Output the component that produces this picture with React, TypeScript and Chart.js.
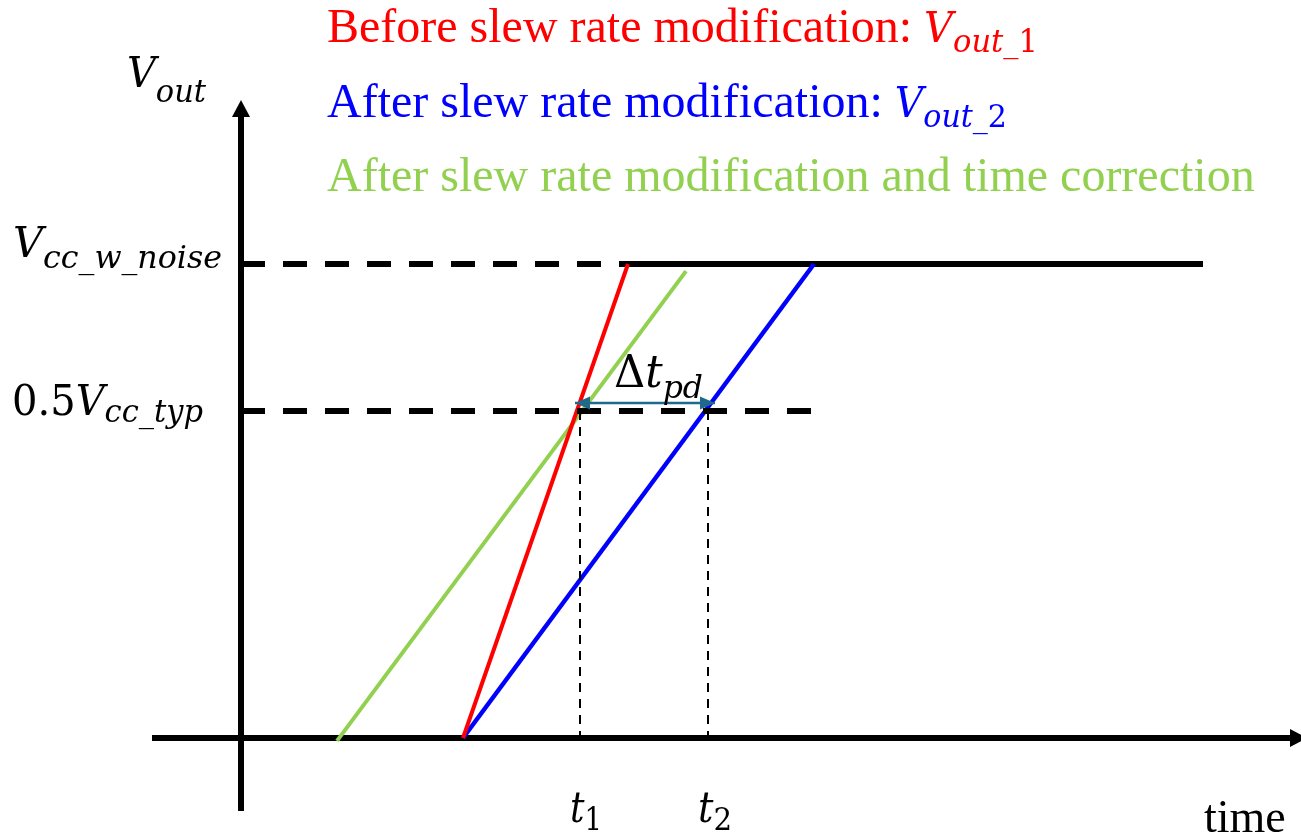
import React, { useEffect, useRef } from 'react';
import { Chart, registerables } from 'chart.js';

Chart.register(...registerables);

// ---- scale ranges (time units / voltage units, Vcc_w_noise = 1) ----
const T_MIN = -2.41;
const T_MAX = 10.6;
const V_MIN = -0.2046;
const V_MAX = 1.557;

// ---- levels ----
const V_NOISE = 1;
const V_HALF = 0.69;

// ---- series ----
const redT = [2.22, 3.87];
const redV = [0, 1];
const blueT = [2.22, 5.73];
const blueV = [0, 1];
const greenT = [0.96, 4.45];
const greenV = [-0.006, 0.985];
const railT = [3.78, 9.62];
const topDashT = [0, 3.78];
const halfDashT = [0, 5.7];
const crossT = [3.39, 4.67]; // t1, t2
const deltaT = [3.34, 4.74];
const deltaV = 0.707;
const xAxisT = [-0.89, 10.49];
const yAxisV = [-0.154, 1.31];

// ---- texts ----
const titleTexts = [
  'Before slew rate modification: ',
  'After slew rate modification: ',
  'After slew rate modification and time correction',
];
const titleColors = ['#FF0000', '#0000FF', '#92D050'];
const titleMathSub = ['1', '2', ''];
const timeLabel = 'time';

type Part = { s: string; sub?: boolean; up?: boolean };

const zip = (xs: number[], ys: number[]) => xs.map((x, i) => ({ x, y: ys[i] }));
const flat = (xs: number[], y: number) => xs.map((x) => ({ x, y }));

const MATH_FONT = '"DejaVu Serif"';

function fontFor(p: Part, M: number, S: number) {
  const size = p.sub ? S : M;
  return `${p.up ? '' : 'italic '}${size}px ${MATH_FONT}`;
}

function drawMath(
  ctx: CanvasRenderingContext2D,
  parts: Part[],
  left: number,
  baseline: number,
  target: number,
  subOff: number,
  color: string,
  M = 42,
  S = 32
) {
  let w = 0;
  for (const p of parts) {
    ctx.font = fontFor(p, M, S);
    w += ctx.measureText(p.s).width;
  }
  const sx = target > 0 ? target / w : 1;
  ctx.save();
  ctx.translate(left, baseline);
  ctx.scale(sx, 1);
  ctx.fillStyle = color;
  ctx.textBaseline = 'alphabetic';
  ctx.textAlign = 'left';
  let x = 0;
  for (const p of parts) {
    ctx.font = fontFor(p, M, S);
    ctx.fillText(p.s, x, p.sub ? subOff : 0);
    x += ctx.measureText(p.s).width;
  }
  ctx.restore();
}

function head(
  ctx: CanvasRenderingContext2D,
  tipX: number,
  tipY: number,
  dx: number,
  dy: number,
  len: number,
  wid: number,
  color: string
) {
  const n = Math.hypot(dx, dy) || 1;
  const ux = dx / n;
  const uy = dy / n;
  const bx = tipX - ux * len;
  const by = tipY - uy * len;
  const px = -uy;
  const py = ux;
  ctx.save();
  ctx.fillStyle = color;
  ctx.beginPath();
  ctx.moveTo(tipX, tipY);
  ctx.lineTo(bx + (px * wid) / 2, by + (py * wid) / 2);
  ctx.lineTo(bx - (px * wid) / 2, by - (py * wid) / 2);
  ctx.closePath();
  ctx.fill();
  ctx.restore();
}

const arrowPlugin = {
  id: 'arrowHeads',
  afterDatasetsDraw(chart: any) {
    const ctx = chart.ctx as CanvasRenderingContext2D;
    chart.data.datasets.forEach((ds: any, i: number) => {
      const a = ds.arrowHead;
      if (!a) return;
      const pts = chart.getDatasetMeta(i).data;
      if (pts.length < 2) return;
      const p0 = pts[0];
      const p1 = pts[pts.length - 1];
      const dx = p1.x - p0.x;
      const dy = p1.y - p0.y;
      const n = Math.hypot(dx, dy) || 1;
      if (a.mode === 'extend') {
        head(ctx, p1.x + (dx / n) * a.len, p1.y + (dy / n) * a.len, dx, dy, a.len, a.wid, ds.borderColor);
      } else {
        head(ctx, p1.x, p1.y, dx, dy, a.len, a.wid, ds.borderColor);
        head(ctx, p0.x, p0.y, -dx, -dy, a.len, a.wid, ds.borderColor);
      }
    });
  },
};

const textPlugin = {
  id: 'texts',
  afterDraw(chart: any) {
    const ctx = chart.ctx as CanvasRenderingContext2D;
    const xs = chart.scales.x;
    const ys = chart.scales.y;
    const x0 = xs.getPixelForValue(0);
    const yNoise = ys.getPixelForValue(V_NOISE);
    const yHalf = ys.getPixelForValue(V_HALF);
    const y0 = ys.getPixelForValue(0);

    // titles
    const baselines = [42, 117, 191];
    const mathRight = [1038, 1007, 0];
    ctx.save();
    ctx.textBaseline = 'alphabetic';
    ctx.textAlign = 'left';
    titleTexts.forEach((t, i) => {
      ctx.font = '48px "Liberation Serif"';
      ctx.fillStyle = titleColors[i];
      ctx.fillText(t, 327, baselines[i]);
      if (titleMathSub[i]) {
        const w = ctx.measureText(t).width;
        const left = 327 + w;
        drawMath(
          ctx,
          [{ s: 'V' }, { s: 'out_', sub: true }, { s: titleMathSub[i], sub: true, up: true }],
          left,
          baselines[i],
          mathRight[i] - left,
          10,
          titleColors[i]
        );
      }
    });
    ctx.restore();

    // axis label V_out
    drawMath(ctx, [{ s: 'V' }, { s: 'out', sub: true }], x0 - 114, 87, 79, 15, '#000');

    // level labels
    drawMath(ctx, [{ s: 'V' }, { s: 'cc_w_noise', sub: true }], 13, yNoise - 7, x0 - 19 - 13, 11, '#000');
    drawMath(ctx, [{ s: '0.5', up: true }, { s: 'V' }, { s: 'cc_typ', sub: true }], 12, yHalf + 4, x0 - 38 - 12, 7, '#000');

    // delta t_pd
    const xt1 = xs.getPixelForValue(crossT[0]);
    const xt2 = xs.getPixelForValue(crossT[1]);
    const yd = ys.getPixelForValue(deltaV);
    drawMath(ctx, [{ s: 'Δ', up: true }, { s: 't' }, { s: 'pd', sub: true }], xt1 + 34, yd - 16, 89, 11, '#000', 44, 32);

    // t1, t2
    drawMath(ctx, [{ s: 't' }, { s: '1', sub: true, up: true }], xt1 - 10, y0 + 84, 32, 8, '#000');
    drawMath(ctx, [{ s: 't' }, { s: '2', sub: true, up: true }], xt2 - 10, y0 + 84, 34, 8, '#000');

    // time
    ctx.save();
    ctx.font = '46px "Liberation Serif"';
    ctx.fillStyle = '#000';
    ctx.textBaseline = 'alphabetic';
    ctx.fillText(timeLabel, 1204, y0 + 94);
    ctx.restore();
  },
};

export default function App() {
  const ref = useRef<HTMLCanvasElement | null>(null);

  useEffect(() => {
    document.body.style.margin = '0';
    const canvas = ref.current;
    if (!canvas) return;

    const line = (data: any[], color: string, width: number, order: number, extra: any = {}) => ({
      data,
      borderColor: color,
      backgroundColor: color,
      borderWidth: width,
      showLine: true,
      pointRadius: 0,
      pointHoverRadius: 0,
      fill: false,
      tension: 0,
      borderCapStyle: 'butt',
      order,
      ...extra,
    });

    const chart = new Chart(canvas, {
      type: 'scatter',
      data: {
        datasets: [
          line(flat(deltaT, deltaV), '#1F6A8C', 2.5, 0, { arrowHead: { mode: 'both', len: 15, wid: 13 } }),
          line(zip([crossT[0], crossT[0]], [V_HALF, 0]), '#000', 2, 1, { borderDash: [9, 7] }),
          line(zip([crossT[1], crossT[1]], [V_HALF, 0]), '#000', 2, 1, { borderDash: [9, 7] }),
          line(flat(halfDashT, V_HALF), '#000', 6, 2, { borderDash: [24, 18] }),
          line(zip(redT, redV), '#FF0000', 4, 3),
          line(zip(blueT, blueV), '#0000FF', 4.5, 3),
          line(zip(greenT, greenV), '#92D050', 4, 3),
          line(flat(railT, V_NOISE), '#000', 6, 4),
          line(flat(topDashT, V_NOISE), '#000', 6, 4, { borderDash: [24, 18] }),
          line(flat(xAxisT, 0), '#000', 6, 4, { arrowHead: { mode: 'extend', len: 17, wid: 18 } }),
          line(zip([0, 0], yAxisV), '#000', 6, 4, { arrowHead: { mode: 'extend', len: 17, wid: 18 } }),
        ] as any,
      },
      options: {
        responsive: false,
        maintainAspectRatio: false,
        animation: false,
        events: [],
        layout: { padding: 0 },
        plugins: {
          legend: { display: false },
          tooltip: { enabled: false },
          title: { display: false },
        },
        scales: {
          x: { type: 'linear', min: T_MIN, max: T_MAX, display: false },
          y: { type: 'linear', min: V_MIN, max: V_MAX, display: false },
        },
      } as any,
      plugins: [arrowPlugin, textPlugin],
    });

    return () => chart.destroy();
  }, []);

  return (
    <div style={{ width: 1301, height: 835, background: '#fff' }}>
      <canvas ref={ref} width={1301} height={835} style={{ display: 'block', width: 1301, height: 835 }} />
    </div>
  );
}
